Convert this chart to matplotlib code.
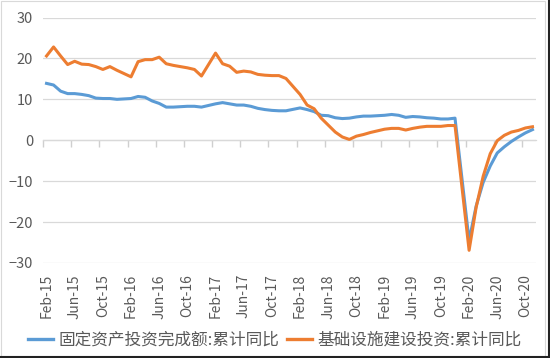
import numpy as np
import pandas as pd
import matplotlib
matplotlib.use('Agg')
import matplotlib.pyplot as plt
from matplotlib.lines import Line2D
from matplotlib.patches import Rectangle

plt.rcParams['font.family'] = ['Noto Sans CJK SC', 'DejaVu Sans']

# monthly cumulative yoy (%), Jan merged into Feb so no Jan points
fai_name = '固定资产投资完成额:累计同比'
infra_name = '基础设施建设投资:累计同比'

fai = [13.9, 13.5, 12.0, 11.4, 11.4, 11.2, 10.9, 10.3, 10.2, 10.2, 10.0,
       10.2, 10.7, 10.5, 9.6, 9.0, 8.1, 8.1, 8.2, 8.3, 8.3, 8.1,
       8.9, 9.2, 8.9, 8.6, 8.6, 8.3, 7.8, 7.5, 7.3, 7.2, 7.2,
       7.9, 7.5, 7.0, 6.1, 6.0, 5.5, 5.3, 5.4, 5.7, 5.9, 5.9,
       6.1, 6.3, 6.1, 5.6, 5.8, 5.7, 5.5, 5.4, 5.2, 5.2, 5.4,
       -24.5, -16.1, -10.3, -6.3, -3.1, -1.6, -0.3, 0.8, 1.8, 2.6]

infra = [20.6, 22.8, 20.6, 18.5, 19.3, 18.6, 18.5, 18.0, 17.3, 18.0, 17.1,
         15.5, 19.2, 19.7, 19.7, 20.3, 18.7, 18.3, 18.0, 17.7, 17.3, 15.7,
         21.3, 18.7, 18.1, 16.6, 16.9, 16.7, 16.1, 15.9, 15.8, 15.8, 15.1,
         11.2, 8.6, 7.7, 5.4, 3.7, 2.0, 0.8, 0.2, 1.0, 1.4, 1.9,
         2.7, 2.9, 2.9, 2.5, 2.9, 3.2, 3.4, 3.4, 3.4, 3.6, 3.6,
         -26.9, -16.4, -8.8, -3.3, -0.1, 1.2, 2.0, 2.4, 3.0, 3.3]

tick_labels = ['Feb-15', 'Jun-15', 'Oct-15', 'Feb-16', 'Jun-16', 'Oct-16',
               'Feb-17', 'Jun-17', 'Oct-17', 'Feb-18', 'Jun-18', 'Oct-18',
               'Feb-19', 'Jun-19', 'Oct-19', 'Feb-20', 'Jun-20', 'Oct-20']


def month_index(ts):
    """months counted from Feb-15"""
    return (ts.year - 2015) * 12 + ts.month - 2


months = [m for m in pd.period_range('2015-02', '2020-11', freq='M') if m.month != 1]
x = np.array([month_index(m) for m in months])
tick_pos = [month_index(pd.to_datetime(t, format='%b-%y')) for t in tick_labels]

blue = '#5B9BD5'
orange = '#ED7D31'
grey_txt = '#595959'
grid_c = '#d9d9d9'

fig = plt.figure(figsize=(5.5, 3.58), dpi=100)
ax = fig.add_axes([43 / 550, 1 - 263 / 358, (536 - 43) / 550, (263 - 17.5) / 358])

ax.plot(x, fai, color=blue, lw=2.2, solid_joinstyle='round')
ax.plot(x, infra, color=orange, lw=2.2, solid_joinstyle='round')

ax.set_xlim(-0.5, 69.5)
ax.set_ylim(-30, 30)
ax.set_yticks(range(-30, 31, 10))
ax.yaxis.grid(True, color=grid_c, lw=0.9)
ax.set_axisbelow(True)
for s in ax.spines.values():
    s.set_visible(False)
ax.tick_params(axis='y', length=0, pad=7, labelsize=10.5, labelcolor=grey_txt)
ax.set_xticks(tick_pos, tick_labels, rotation=90)
ax.tick_params(axis='x', length=0, pad=8, labelsize=10, labelcolor=grey_txt)

# category tick marks on the zero line
sec = ax.secondary_xaxis(0.5)
sec.set_xticks(np.arange(-0.5, 68, 4))
sec.tick_params(direction='in', length=5, color='#cfcfcf', width=1.0,
                labeltop=False, labelbottom=False)
for s in sec.spines.values():
    s.set_color(grid_c)
    s.set_linewidth(0.9)

handles = [Line2D([], [], color=blue, lw=2.4), Line2D([], [], color=orange, lw=2.4)]
leg = fig.legend(handles, [fai_name, infra_name], loc='center',
                 bbox_to_anchor=(0.5, 1 - 340 / 358), ncol=2, frameon=False,
                 fontsize=12, handlelength=1.5, handletextpad=0.35,
                 columnspacing=0.45)
for t in leg.get_texts():
    t.set_color(grey_txt)

fig.add_artist(Rectangle((0.002, 0.004), 0.989, 0.993, transform=fig.transFigure,
                         fill=False, ec=grid_c, lw=0.8))
fig.add_artist(Line2D([0, 1], [0.002, 0.002], transform=fig.transFigure, color='#222222', lw=1.5))
fig.add_artist(Line2D([0.998, 0.998], [0, 1], transform=fig.transFigure, color='#222222', lw=1.5))

fig.savefig('out.png', dpi=100)
